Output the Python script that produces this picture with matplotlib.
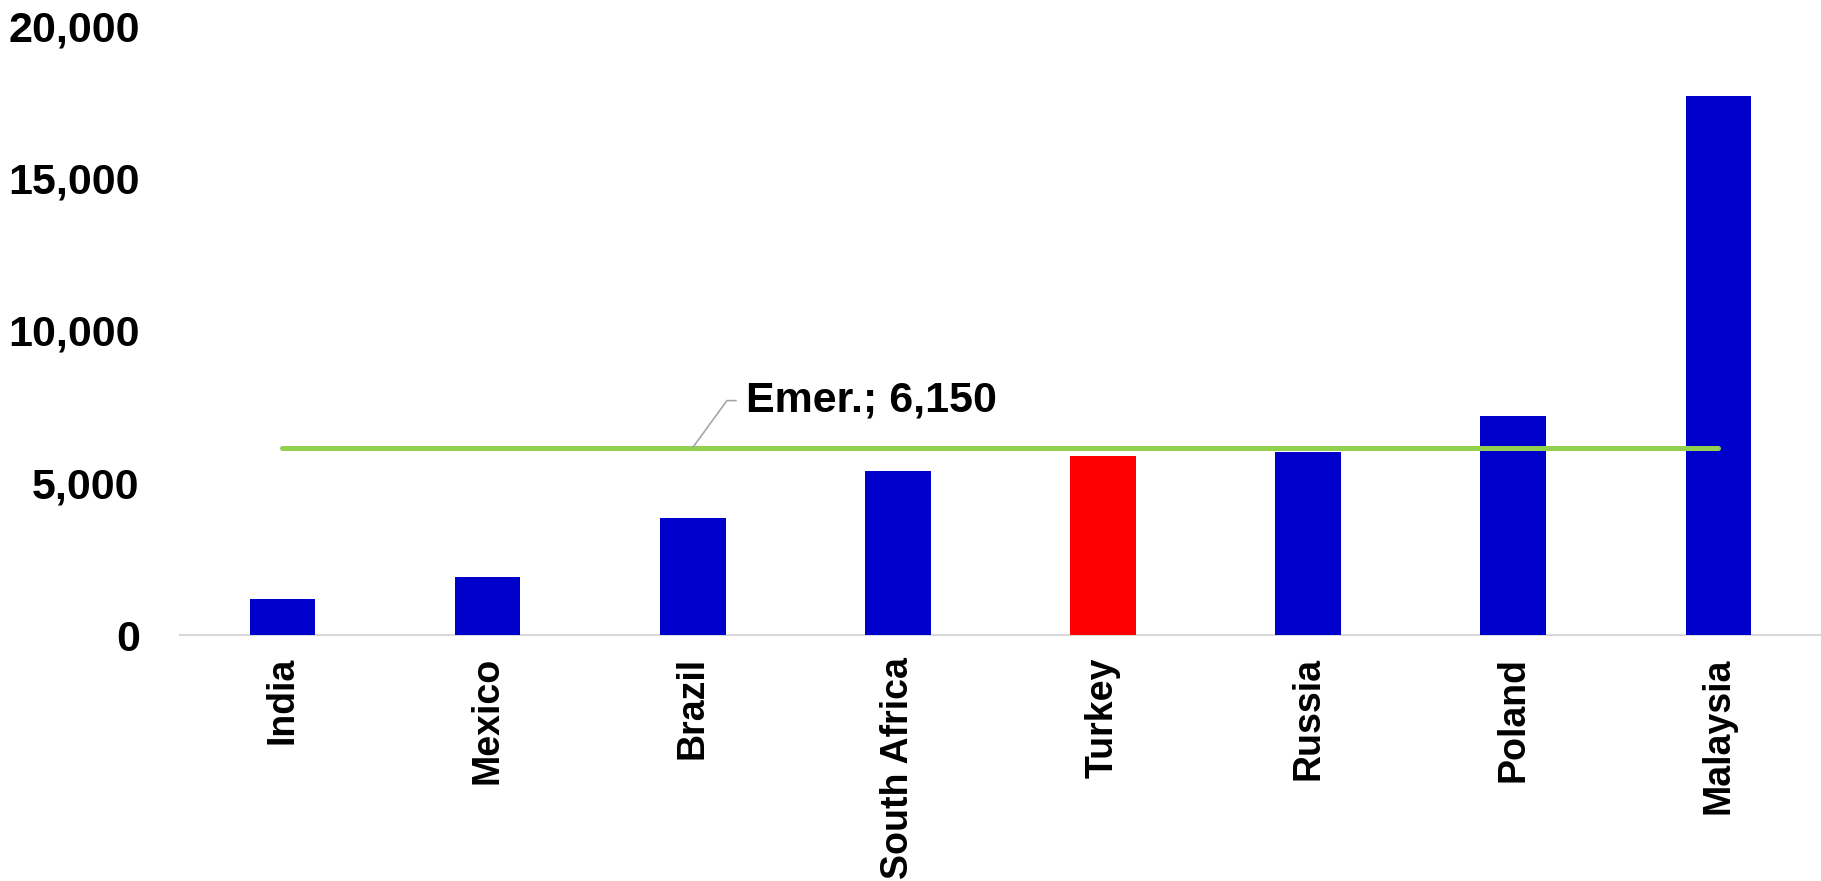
import matplotlib
matplotlib.use('Agg')
import matplotlib.pyplot as plt
from matplotlib.ticker import FuncFormatter

# --- Data ---
countries = ["India", "Mexico", "Brazil", "South Africa", "Turkey",
             "Russia", "Poland", "Malaysia"]
values = [1180, 1920, 3835, 5380, 5885, 6020, 7180, 17700]
highlight = "Turkey"
emer_label = "Emer."
emer_value = 6150
y_ticks = [0, 5000, 10000, 15000, 20000]

BLUE = "#0000CC"
RED = "#FF0000"
GREEN = "#92D050"
AXIS_GREY = "#D9D9D9"

plt.rcParams['font.family'] = ['Liberation Sans', 'DejaVu Sans']
plt.rcParams['font.weight'] = 'bold'

fig = plt.figure(figsize=(18.21, 8.81), dpi=100, facecolor='white')
ax = fig.add_axes([0.0988, 0.2792, 0.9012, 0.6918])

x = list(range(len(countries)))
colors = [RED if c == highlight else BLUE for c in countries]
ax.bar(x, values, width=0.32, color=colors, edgecolor='none', zorder=2)

# benchmark line across the countries
ax.plot(x, [emer_value] * len(x), color=GREEN, lw=3.6,
        solid_capstyle='round', zorder=3)

# callout label with grey leader line
ax.annotate(f"{emer_label}; {emer_value:,}",
            xy=(2, emer_value), xycoords='data',
            xytext=(53, 47), textcoords='offset pixels',
            ha='left', va='center', fontsize=31, fontweight='bold',
            color='black',
            arrowprops=dict(arrowstyle='-', color='#A6A6A6', lw=1.2,
                            shrinkA=5, shrinkB=0,
                            relpos=(0, 0.5),
                            connectionstyle='angle,angleA=0,angleB=54,rad=0'))

ax.set_xlim(-0.5, len(countries) - 0.5)
ax.set_ylim(0, 20000)
ax.set_yticks(y_ticks)
ax.yaxis.set_major_formatter(FuncFormatter(lambda v, p: f"{int(v):,}"))
ax.set_xticks(x)
ax.set_xticklabels(countries, rotation=90, fontsize=27, fontweight='bold')

for lab in ax.get_yticklabels():
    lab.set_fontsize(31)
    lab.set_fontweight('bold')

ax.tick_params(axis='y', length=0, pad=29)
ax.tick_params(axis='x', length=0, pad=16)

for side in ['top', 'right', 'left']:
    ax.spines[side].set_visible(False)
ax.spines['bottom'].set_color(AXIS_GREY)
ax.spines['bottom'].set_linewidth(1.5)
ax.spines['bottom'].set_zorder(1)

plt.savefig("out.png", dpi=100, facecolor='white')
plt.close()
